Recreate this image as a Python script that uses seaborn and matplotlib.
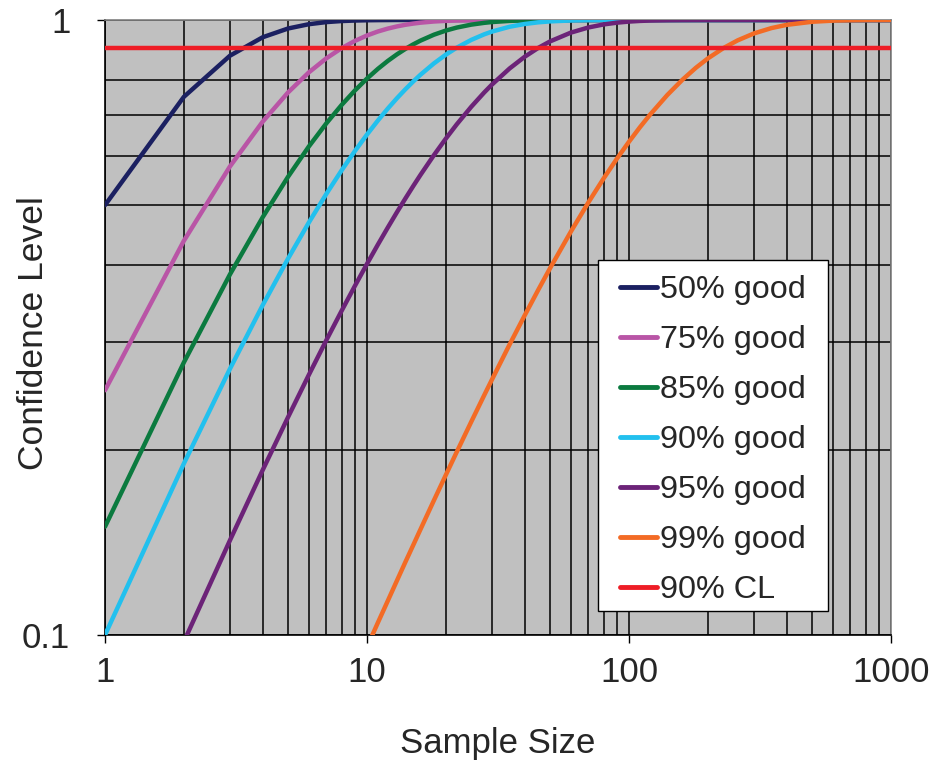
import numpy as np
import pandas as pd
import matplotlib
matplotlib.use("Agg")
import matplotlib.pyplot as plt
from matplotlib.patches import Rectangle
from matplotlib.ticker import FixedLocator, NullFormatter
import seaborn as sns

sample_size = [1, 2, 3, 4, 5, 6, 7, 8, 9, 10, 11, 12, 13, 14, 15, 16, 18, 20, 22, 25, 28, 30,
               35, 40, 45, 50, 60, 70, 80, 90, 100, 110, 120, 140, 160, 180, 200, 230, 260,
               300, 350, 400, 500, 600, 700, 800, 1000]

good50 = [0.5, 0.75, 0.875, 0.9375, 0.96875, 0.9844, 0.9922, 0.9961, 0.9980, 0.9990, 0.9995,
          0.9998, 1.0, 1.0, 1.0, 1.0, 1.0, 1.0, 1.0, 1.0, 1.0, 1.0, 1.0, 1.0, 1.0, 1.0, 1.0,
          1.0, 1.0, 1.0, 1.0, 1.0, 1.0, 1.0, 1.0, 1.0, 1.0, 1.0, 1.0, 1.0, 1.0, 1.0, 1.0,
          1.0, 1.0, 1.0, 1.0]
good75 = [0.25, 0.4375, 0.5781, 0.6836, 0.7627, 0.8220, 0.8665, 0.8999, 0.9249, 0.9437, 0.9578,
          0.9683, 0.9762, 0.9822, 0.9866, 0.9900, 0.9944, 0.9968, 0.9982, 0.9992, 0.9997, 0.9998,
          1.0, 1.0, 1.0, 1.0, 1.0, 1.0, 1.0, 1.0, 1.0, 1.0, 1.0, 1.0, 1.0, 1.0, 1.0, 1.0, 1.0,
          1.0, 1.0, 1.0, 1.0, 1.0, 1.0, 1.0, 1.0]
good85 = [0.15, 0.2775, 0.3859, 0.4780, 0.5563, 0.6229, 0.6794, 0.7275, 0.7684, 0.8031, 0.8327,
          0.8578, 0.8791, 0.8972, 0.9126, 0.9257, 0.9464, 0.9612, 0.9720, 0.9828, 0.9894, 0.9924,
          0.9966, 0.9985, 0.9993, 0.9997, 0.9999, 1.0, 1.0, 1.0, 1.0, 1.0, 1.0, 1.0, 1.0, 1.0,
          1.0, 1.0, 1.0, 1.0, 1.0, 1.0, 1.0, 1.0, 1.0, 1.0, 1.0]
good90 = [0.1, 0.19, 0.271, 0.3439, 0.4095, 0.4686, 0.5217, 0.5695, 0.6126, 0.6513, 0.6862,
          0.7176, 0.7458, 0.7712, 0.7941, 0.8147, 0.8499, 0.8784, 0.9015, 0.9282, 0.9477, 0.9576,
          0.9750, 0.9852, 0.9913, 0.9948, 0.9982, 0.9994, 0.9998, 0.9999, 1.0, 1.0, 1.0, 1.0,
          1.0, 1.0, 1.0, 1.0, 1.0, 1.0, 1.0, 1.0, 1.0, 1.0, 1.0, 1.0, 1.0]
good95 = [0.05, 0.0975, 0.1426, 0.1855, 0.2262, 0.2649, 0.3017, 0.3366, 0.3698, 0.4013, 0.4312,
          0.4596, 0.4867, 0.5123, 0.5367, 0.5599, 0.6028, 0.6415, 0.6765, 0.7226, 0.7622, 0.7854,
          0.8339, 0.8715, 0.9006, 0.9231, 0.9539, 0.9724, 0.9835, 0.9901, 0.9941, 0.9965, 0.9979,
          0.9992, 0.9997, 0.9999, 1.0, 1.0, 1.0, 1.0, 1.0, 1.0, 1.0, 1.0, 1.0, 1.0, 1.0]
good99 = [0.01, 0.0199, 0.0297, 0.0394, 0.0490, 0.0585, 0.0679, 0.0773, 0.0865, 0.0956, 0.1047,
          0.1136, 0.1225, 0.1313, 0.1399, 0.1485, 0.1655, 0.1821, 0.1984, 0.2222, 0.2453, 0.2603,
          0.2966, 0.3310, 0.3638, 0.3950, 0.4528, 0.5052, 0.5525, 0.5953, 0.6340, 0.6690, 0.7006,
          0.7551, 0.7997, 0.8362, 0.8660, 0.9009, 0.9267, 0.9510, 0.9703, 0.9820, 0.9934, 0.9976,
          0.9991, 0.9997, 1.0]
cl_x = [1, 1000]
cl_y = [0.9, 0.9]

series_names = ["50% good", "75% good", "85% good", "90% good", "95% good", "99% good", "90% CL"]
series_vals = [good50, good75, good85, good90, good95, good99]
colors = ["#1B2061", "#B955A6", "#0B7A3F", "#22C0EE", "#6C2378", "#F36B25", "#EE1D26"]

rows = []
for name, vals in zip(series_names[:6], series_vals):
    for x, y in zip(sample_size, vals):
        rows.append((name, x, y))
for x, y in zip(cl_x, cl_y):
    rows.append((series_names[6], x, y))
df = pd.DataFrame(rows, columns=["series", "n", "cl"])

sns.set_theme(style="white")
plt.rcParams["font.family"] = ["Liberation Sans", "DejaVu Sans"]

W, H = 942, 760
L, R, T, B = 105, 891, 20, 635
fig = plt.figure(figsize=(W / 100, H / 100), dpi=100)
ax = fig.add_axes([L / W, 1 - B / H, (R - L) / W, (B - T) / H])
ax.set_facecolor("#C0C0C0")

sns.lineplot(data=df, x="n", y="cl", hue="series", hue_order=series_names,
             palette=dict(zip(series_names, colors)), linewidth=3.2, sort=False,
             estimator=None, ax=ax, zorder=3)

ax.set_xscale("log")
ax.set_yscale("log")
ax.set_xlim(1, 1000)
ax.set_ylim(0.1, 1)

ax.xaxis.set_major_locator(FixedLocator([1, 10, 100, 1000]))
ax.set_xticklabels(["1", "10", "100", "1000"])
xminor = [m * d for d in (1, 10, 100) for m in range(2, 10)]
ax.xaxis.set_minor_locator(FixedLocator(xminor))
ax.xaxis.set_minor_formatter(NullFormatter())
ax.yaxis.set_major_locator(FixedLocator([0.1, 1]))
ax.set_yticklabels(["0.1", "1"])
ax.yaxis.set_minor_locator(FixedLocator([0.2, 0.3, 0.4, 0.5, 0.6, 0.7, 0.8, 0.9]))
ax.yaxis.set_minor_formatter(NullFormatter())

ax.grid(True, which="both", color="black", linewidth=1.1, zorder=1)
ax.set_axisbelow(True)
ax.tick_params(axis="both", which="major", direction="out", length=6, width=1,
               color="black", labelsize=25, left=True, bottom=True)
ax.tick_params(axis="x", which="major", pad=9)
ax.tick_params(axis="y", which="major", pad=19)
ax.tick_params(axis="both", which="minor", length=0)

for side in ["left", "bottom"]:
    ax.spines[side].set_color("black")
    ax.spines[side].set_linewidth(1.2)
for side in ["top", "right"]:
    ax.spines[side].set_color("#808080")
    ax.spines[side].set_linewidth(1.2)

ax.set_xlabel("Sample Size", fontsize=25, va="center")
ax.xaxis.set_label_coords(0.5, (B - 744) / (B - T))
ax.set_ylabel("Confidence Level", fontsize=25.5, va="center")
ax.yaxis.set_label_coords((34 - L) / (R - L), (B - 333) / (B - T))

# legend frame (white box) in axes coordinates
def ax_x(px):
    return (px - L) / (R - L)

def ax_y(py):
    return (B - py) / (B - T)

frame = Rectangle((ax_x(598), ax_y(611)), ax_x(828) - ax_x(598), ax_y(260) - ax_y(611),
                  transform=ax.transAxes, facecolor="white", edgecolor="black",
                  linewidth=1.0, zorder=4)
ax.add_patch(frame)

leg = ax.legend(loc="upper left", bbox_to_anchor=(ax_x(620), ax_y(275)),
                fontsize=23.3, frameon=False, handlelength=1.15,
                handletextpad=0.08, labelspacing=0.62, borderpad=0, borderaxespad=0)
leg.set_zorder(5)
for h in leg.get_lines():
    h.set_linewidth(3.5)

fig.savefig("out.png", dpi=100)
